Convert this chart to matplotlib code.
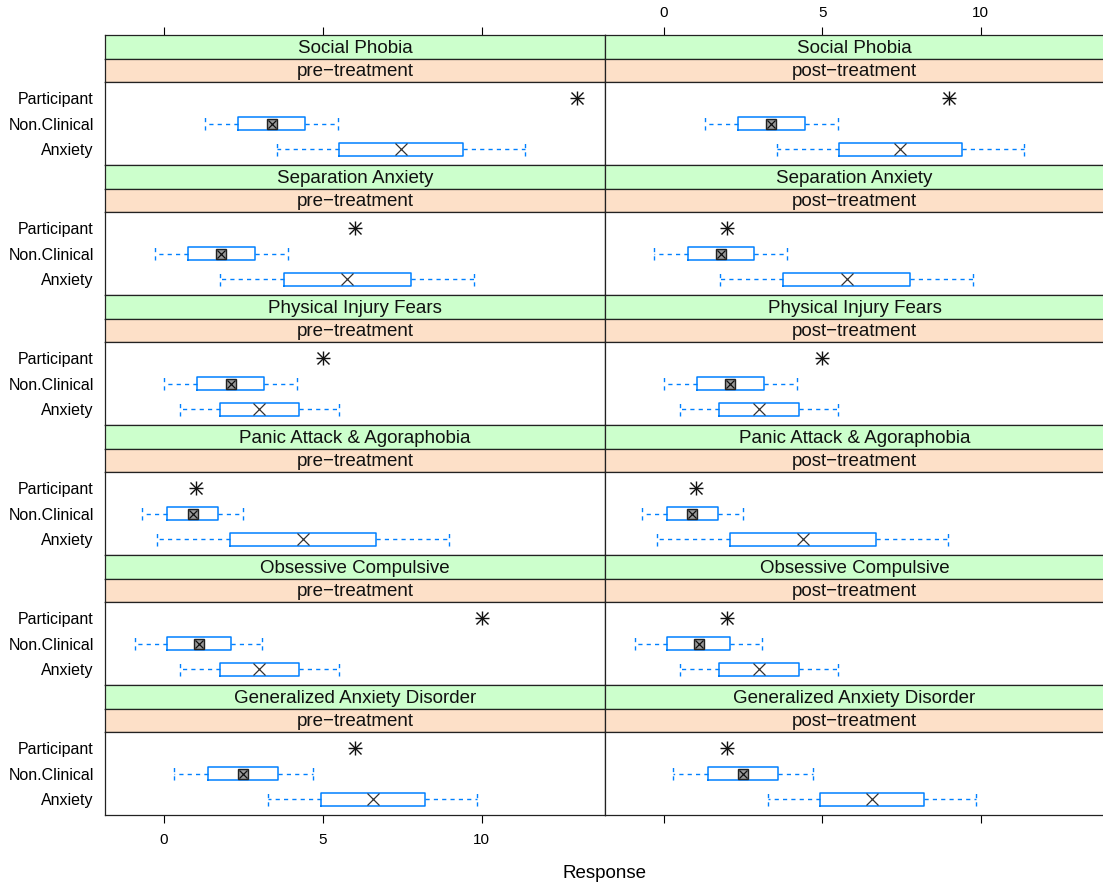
import matplotlib
matplotlib.use("Agg")
import matplotlib.pyplot as plt

plt.rcParams['font.family'] = ['Liberation Sans', 'DejaVu Sans']

# Anxiety scales (one row of panels each), top to bottom
scales = ["Social Phobia", "Separation Anxiety", "Physical Injury Fears",
          "Panic Attack & Agoraphobia", "Obsessive Compulsive",
          "Generalized Anxiety Disorder"]
times = ["pre\u2212treatment", "post\u2212treatment"]
groups = ["Anxiety", "Non.Clinical", "Participant"]  # bottom to top

# Norm samples: mean and standard deviation per scale
nonclinical_mean = [3.39, 1.80, 2.10, 0.90, 1.10, 2.50]
nonclinical_sd = [1.05, 1.05, 1.05, 0.80, 1.00, 1.10]
anxiety_mean = [7.46, 5.77, 3.00, 4.38, 3.00, 6.57]
anxiety_sd = [1.95, 2.00, 1.25, 2.30, 1.25, 1.64]

# Participant scores
participant_pre = [13, 6, 5, 1, 10, 6]
participant_post = [9, 2, 5, 1, 2, 2]

x_ticks = [0, 5, 10]
x_limits = (-1.86, 13.89)

W, H = 1103, 886
fig = plt.figure(figsize=(W / 100, H / 100), dpi=100)


def rect(x0, y0, x1, y1):
    return [x0 / W, 1 - y1 / H, (x1 - x0) / W, (y1 - y0) / H]


BLUE = "#0080ff"
GREEN = "#CCFFCC"
PEACH = "#FDE0C8"
FRAME = "#222222"
col_edges = [(105, 605), (605, 1104)]


def norm_stats(m, s):
    return dict(med=m, q1=m - s, q3=m + s, whislo=m - 2 * s, whishi=m + 2 * s,
                fliers=[])


def style_frame(ax):
    for sp in ax.spines.values():
        sp.set_linewidth(0.9)
        sp.set_color(FRAME)


for r, scale in enumerate(scales):
    top = 35 + 130 * r
    for c, (x0, x1) in enumerate(col_edges):
        # strips
        s1 = fig.add_axes(rect(x0, top, x1, top + 24), facecolor=GREEN)
        s2 = fig.add_axes(rect(x0, top + 24, x1, top + 47), facecolor=PEACH)
        for s, label in ((s1, scale), (s2, times[c])):
            s.set_xlim(*x_limits)
            s.set_ylim(0, 1)
            s.set_yticks([])
            s.set_xticks([])
            style_frame(s)
            s.text(0.5, 0.45, label, transform=s.transAxes, ha='center',
                   va='center', fontsize=13.5, color='#111111')
        if r == 0:
            s1.set_xticks(x_ticks)
            s1.tick_params(axis='x', top=True, bottom=False, labeltop=(c == 1),
                           labelbottom=False, direction='out', length=6,
                           width=0.8, pad=5, labelsize=11)

        # panel
        ax = fig.add_axes(rect(x0, top + 47, x1, top + 130))
        ax.set_xlim(*x_limits)
        ax.set_ylim(0.4, 3.6)
        style_frame(ax)

        stats = [norm_stats(anxiety_mean[r], anxiety_sd[r]),
                 norm_stats(nonclinical_mean[r], nonclinical_sd[r])]
        dash = (0, (3, 3))
        ax.bxp(stats, positions=[1, 2], widths=0.5, capwidths=0.5,
               orientation='horizontal', showfliers=False, showcaps=True,
               boxprops=dict(color=BLUE, linewidth=1.1),
               whiskerprops=dict(color=BLUE, linewidth=1.0, linestyle=dash),
               capprops=dict(color=BLUE, linewidth=1.0, linestyle=dash),
               medianprops=dict(linewidth=0), manage_ticks=False)

        # medians
        ax.plot([anxiety_mean[r]], [1], marker='x', ms=8.5, mew=0.9,
                color='#333333', linestyle='none', zorder=5)
        ax.plot([nonclinical_mean[r]], [2], marker='s', ms=6.5, mew=1.0,
                mfc='#999999', mec='#222222', linestyle='none', zorder=5)
        ax.plot([nonclinical_mean[r]], [2], marker='x', ms=6.0, mew=0.9,
                color='#111111', linestyle='none', zorder=6)

        # participant score
        p = participant_pre[r] if c == 0 else participant_post[r]
        ax.plot([p], [3], marker='+', ms=10.5, mew=1.0, color='#111111',
                linestyle='none', zorder=5)
        ax.plot([p], [3], marker='x', ms=8.0, mew=1.0, color='#111111',
                linestyle='none', zorder=5)

        ax.set_yticks([1, 2, 3])
        if c == 0:
            ax.set_yticklabels(groups, fontsize=11.5)
            ax.tick_params(axis='y', length=0, pad=8)
        else:
            ax.tick_params(axis='y', left=False, labelleft=False)

        if r == len(scales) - 1:
            ax.set_xticks(x_ticks)
            ax.tick_params(axis='x', direction='out', length=6, width=0.8,
                           pad=7, labelsize=11, labelbottom=(c == 0))
        else:
            ax.set_xticks([])

fig.text(605 / W, 1 - 873 / H, "Response", ha='center', va='center',
         fontsize=13.5)

fig.savefig("out.png", dpi=100, facecolor='white')
